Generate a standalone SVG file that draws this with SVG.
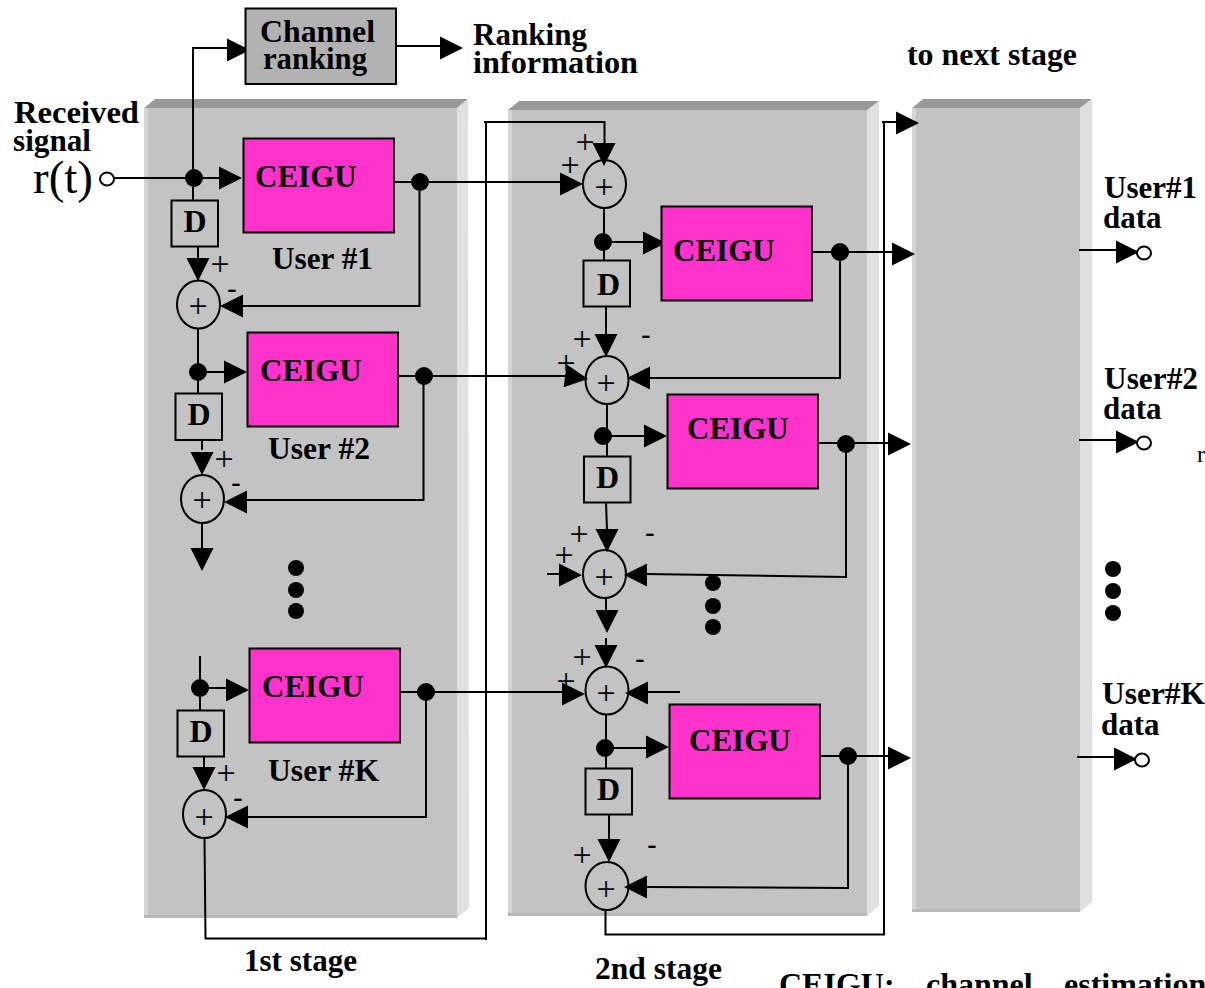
<svg xmlns="http://www.w3.org/2000/svg" width="1205" height="988" viewBox="0 0 1205 988">
<style>
text{font-family:"Liberation Serif","Times New Roman",serif;fill:#000}
.b{font-weight:bold;font-size:32px}
.c{font-weight:bold;font-size:31px}
.u{font-weight:bold;font-size:31px}
.p{font-size:34px;text-anchor:middle}
.m{font-weight:bold;font-size:28px;text-anchor:middle}
.box{stroke:#000;stroke-width:2}
.mag{fill:#ff33cc}
.d{fill:none}
.sum{fill:none;stroke:#000;stroke-width:2}
.l{fill:none;stroke:#000;stroke-width:2}
.top{fill:#999}.rgt{fill:#e0e0e0}.lft{fill:#d4d4d4}.bot{fill:#b8b8b8}.fr{fill:#c3c3c3}
</style>
<defs>
<path id="a" d="M-23,-11.500L0,0L-23,11.500Z" fill="#000"/>
<ellipse id="j" rx="9" ry="9" fill="#000"/>
<ellipse id="o" rx="7" ry="6.500" fill="#fff" stroke="#000" stroke-width="2"/>
</defs>

<g id="panel1">
<polygon class="top" points="144,108 155,99 468,99 457,108"/>
<polygon class="rgt" points="457,108 468,99 469,908 457,918"/>
<rect class="fr" x="144" y="108" width="313" height="810"/>
<rect class="lft" x="144" y="108" width="4" height="810"/>
<rect class="bot" x="144" y="915" width="313" height="3"/>
</g>
<g id="panel2">
<polygon class="top" points="508,110 519,101 879,101 868,110"/>
<polygon class="rgt" points="867,110 879,101 879,906 867,916"/>
<rect class="fr" x="508" y="110" width="359" height="806"/>
<rect class="lft" x="508" y="110" width="4" height="806"/>
<rect class="bot" x="508" y="913" width="359" height="3"/>
</g>
<g id="panel3">
<polygon class="top" points="912,108 923,99 1092,99 1080,108"/>
<polygon class="rgt" points="1080,108 1092,99 1092,902 1080,912"/>
<rect class="fr" x="912" y="108" width="168" height="804"/>
<rect class="lft" x="912" y="108" width="4" height="804"/>
<rect class="bot" x="912" y="909" width="168" height="3"/>
</g>

<g id="connectors">
<path class="l" d="M193,178V48H245M396,46H446M114,178H222"/>
<path class="l" d="M193,178V200M198,246V260M198,328V393M202,440V450M202,523V548"/>
<path class="l" d="M394,182H562M419.500,182V306H240"/>
<path class="l" d="M398,376H566M423.500,376V500H244"/>
<path class="l" d="M200,656V710M204,756V768M398,692H564M426,692V817H246"/>
<path class="l" d="M200,688H230M198,372H226"/>
<path class="l" d="M204.500,838L205.500,939M205,938.500H486M486,122V940M484,122H604.500V145"/>
<path class="l" d="M604,208V260M603,242H646M606,306V338M812,252H892M840,252V378M841,378H650"/>
<path class="l" d="M607,404V456M603,436H646M606,502L607,530M818,443H888M846,444V577M847,577L646,574"/>
<path class="l" d="M547,574H562M606,598V614M606,638V648M647,692H680"/>
<path class="l" d="M606,714V768M605,748H648M820,756H888M848,756V889M849,888L645,887M609,814V841"/>
<path class="l" d="M605.500,910V934.500H884V122M882,122H898"/>
<path class="l" d="M1079,250H1118M1079,440H1118M1077,757H1116"/>
<use href="#a" transform="translate(250,50)"/>
<use href="#a" transform="translate(463,48)"/>
<use href="#a" transform="translate(242,178)"/>
<use href="#a" transform="translate(198,281) rotate(90)"/>
<use href="#a" transform="translate(220,306) rotate(180)"/>
<use href="#a" transform="translate(247,372)"/>
<use href="#a" transform="translate(202,475) rotate(90)"/>
<use href="#a" transform="translate(224,502) rotate(180)"/>
<use href="#a" transform="translate(202,571) rotate(90)"/>
<use href="#a" transform="translate(249,690)"/>
<use href="#a" transform="translate(204,790) rotate(90)"/>
<use href="#a" transform="translate(225,817) rotate(180)"/>
<use href="#a" transform="translate(604,166) rotate(90)"/>
<use href="#a" transform="translate(583,184)"/>
<use href="#a" transform="translate(666,243)"/>
<use href="#a" transform="translate(915,254)"/>
<use href="#a" transform="translate(919,123)"/>
<use href="#a" transform="translate(606,357) rotate(90)"/>
<use href="#a" transform="translate(588,379) rotate(8)"/>
<use href="#a" transform="translate(627,378) rotate(180)"/>
<use href="#a" transform="translate(667,436)"/>
<use href="#a" transform="translate(911,444)"/>
<use href="#a" transform="translate(607,552) rotate(90)"/>
<use href="#a" transform="translate(582,575)"/>
<use href="#a" transform="translate(624,575) rotate(180)"/>
<use href="#a" transform="translate(607,633) rotate(90)"/>
<use href="#a" transform="translate(606,668) rotate(90)"/>
<use href="#a" transform="translate(585,694)"/>
<use href="#a" transform="translate(625,693) rotate(180)"/>
<use href="#a" transform="translate(669,747)"/>
<use href="#a" transform="translate(911,758)"/>
<use href="#a" transform="translate(609,862) rotate(90)"/>
<use href="#a" transform="translate(624,887) rotate(180)"/>
<use href="#a" transform="translate(1139,252)"/>
<use href="#a" transform="translate(1139,442)"/>
<use href="#a" transform="translate(1137,759)"/>
<use href="#j" transform="translate(194,178)"/>
<use href="#j" transform="translate(420,182)"/>
<use href="#j" transform="translate(198,372)"/>
<use href="#j" transform="translate(424,376)"/>
<use href="#j" transform="translate(200,688)"/>
<use href="#j" transform="translate(426,692)"/>
<use href="#j" transform="translate(603,242)"/>
<use href="#j" transform="translate(840,252)"/>
<use href="#j" transform="translate(603,436)"/>
<use href="#j" transform="translate(846,444)"/>
<use href="#j" transform="translate(605,748)"/>
<use href="#j" transform="translate(848,756)"/>
</g>

<g id="channel-ranking"><rect class="box" x="245.500" y="8.500" width="150.500" height="75.500" fill="#b2b2b2"/>
<text class="b" x="260" y="42" textLength="115" lengthAdjust="spacingAndGlyphs">Channel</text><text class="b" x="263" y="69" textLength="104" lengthAdjust="spacingAndGlyphs">ranking</text></g>
<g id="input"><use href="#o" transform="translate(107,179)"/><text x="33" y="193" font-size="47" textLength="60" lengthAdjust="spacingAndGlyphs">r(t)</text></g>
<text class="b" x="14" y="123" textLength="125" lengthAdjust="spacingAndGlyphs">Received</text><text class="b" x="13" y="151" textLength="78" lengthAdjust="spacingAndGlyphs">signal</text>
<text class="b" x="473" y="45" textLength="114" lengthAdjust="spacingAndGlyphs">Ranking</text><text class="b" x="473" y="73" textLength="165" lengthAdjust="spacingAndGlyphs">information</text>
<text class="b" x="907" y="65" textLength="170" lengthAdjust="spacingAndGlyphs">to next stage</text>

<g id="ceigu-1-1"><rect class="box mag" x="243.500" y="138.500" width="150.500" height="94"/><text class="c" x="255" y="187">CEIGU</text></g>
<text class="u" x="272" y="269" textLength="101" lengthAdjust="spacingAndGlyphs">User #1</text>
<g id="d-1-1"><rect class="box d" x="171.500" y="200.500" width="46.500" height="46"/><text class="b" x="183.500" y="232">D</text></g>
<g id="sum-1-1"><ellipse class="sum" cx="198.500" cy="304.500" rx="21.500" ry="24"/><text class="p" x="198" y="317">+</text></g>
<text class="p" x="220" y="275">+</text><text class="m" x="232" y="297">-</text>

<g id="ceigu-1-2"><rect class="box mag" x="247.500" y="332.500" width="150.500" height="94"/><text class="c" x="260" y="381">CEIGU</text></g>
<text class="u" x="268" y="459" textLength="102" lengthAdjust="spacingAndGlyphs">User #2</text>
<g id="d-1-2"><rect class="box d" x="175.500" y="393.500" width="46.500" height="46.500"/><text class="b" x="187.500" y="425">D</text></g>
<g id="sum-1-2"><ellipse class="sum" cx="202.500" cy="499" rx="21.500" ry="24"/><text class="p" x="202" y="511">+</text></g>
<text class="p" x="224" y="470">+</text><text class="m" x="236" y="491">-</text>
<g id="dots-1"><ellipse cx="296" cy="568" rx="8" ry="8"/><ellipse cx="296" cy="590" rx="8" ry="8"/><ellipse cx="296" cy="611" rx="8" ry="8"/></g>

<g id="ceigu-1-k"><rect class="box mag" x="249.500" y="648.500" width="150.500" height="94"/><text class="c" x="262" y="697">CEIGU</text></g>
<text class="u" x="268" y="781" textLength="111" lengthAdjust="spacingAndGlyphs">User #K</text>
<g id="d-1-k"><rect class="box d" x="177.500" y="710.500" width="46.500" height="46"/><text class="b" x="189.500" y="742">D</text></g>
<g id="sum-1-k"><ellipse class="sum" cx="204.500" cy="814" rx="21.500" ry="24"/><text class="p" x="204" y="828">+</text></g>
<text class="p" x="226" y="784">+</text><text class="m" x="238" y="806">-</text>

<g id="sum-2-1"><ellipse class="sum" cx="604.500" cy="184" rx="21.500" ry="24"/><text class="p" x="604" y="198">+</text></g>
<text class="p" x="585" y="153">+</text><text class="p" x="570" y="176">+</text>
<g id="d-2-1"><rect class="box d" x="583.500" y="260.500" width="46.500" height="46"/><text class="b" x="597" y="295">D</text></g>
<g id="ceigu-2-1"><rect class="box mag" x="661.500" y="206.500" width="150.500" height="94"/><text class="c" x="673" y="261">CEIGU</text></g>
<g id="sum-2-2"><ellipse class="sum" cx="607" cy="380" rx="21.500" ry="24"/><text class="p" x="606" y="394">+</text></g>
<text class="p" x="582" y="350">+</text><text class="p" x="566" y="374">+</text><text class="m" x="646" y="343">-</text>
<g id="d-2-2"><rect class="box d" x="584" y="456.500" width="46.500" height="46"/><text class="b" x="596" y="488">D</text></g>
<g id="ceigu-2-2"><rect class="box mag" x="667.500" y="394.500" width="150.500" height="94"/><text class="c" x="687" y="439">CEIGU</text></g>
<g id="sum-2-3"><ellipse class="sum" cx="604.500" cy="574" rx="21.500" ry="24"/><text class="p" x="604" y="588">+</text></g>
<text class="p" x="579" y="545">+</text><text class="p" x="564" y="566">+</text><text class="m" x="650" y="541">-</text>
<g id="dots-2"><ellipse cx="713" cy="583" rx="8" ry="8"/><ellipse cx="713" cy="606" rx="8" ry="8"/><ellipse cx="713" cy="627" rx="8" ry="8"/></g>
<g id="sum-2-4"><ellipse class="sum" cx="607" cy="690.500" rx="21.500" ry="24"/><text class="p" x="606" y="704">+</text></g>
<text class="p" x="582" y="668">+</text><text class="p" x="566" y="692">+</text><text class="m" x="640" y="667">-</text>
<g id="ceigu-2-k"><rect class="box mag" x="669.500" y="704.500" width="150.500" height="94"/><text class="c" x="689" y="751">CEIGU</text></g>
<g id="d-2-k"><rect class="box d" x="585.500" y="768.500" width="46.500" height="46"/><text class="b" x="597" y="800">D</text></g>
<g id="sum-2-5"><ellipse class="sum" cx="607" cy="886" rx="21.500" ry="24"/><text class="p" x="606" y="900">+</text></g>
<text class="p" x="582" y="866">+</text><text class="m" x="652" y="853">-</text>

<g id="out-1"><use href="#o" transform="translate(1144,253)"/><text class="u" x="1104" y="198" textLength="93" lengthAdjust="spacingAndGlyphs">User#1</text><text class="u" x="1103" y="228">data</text></g>
<g id="out-2"><use href="#o" transform="translate(1144,443)"/><text class="u" x="1104" y="389" textLength="94" lengthAdjust="spacingAndGlyphs">User#2</text><text class="u" x="1103" y="419">data</text></g>
<g id="out-k"><use href="#o" transform="translate(1142,760)"/><text class="u" x="1102" y="704" textLength="103" lengthAdjust="spacingAndGlyphs">User#K</text><text class="u" x="1101" y="735">data</text></g>
<g id="dots-3"><ellipse cx="1113" cy="569" rx="8" ry="8"/><ellipse cx="1113" cy="591" rx="8" ry="8"/><ellipse cx="1113" cy="613" rx="8" ry="8"/></g>
<text x="1197" y="462" font-size="24">r</text>
<text class="b" x="244" y="971" textLength="113" lengthAdjust="spacingAndGlyphs">1st stage</text>
<text class="b" x="595" y="979" textLength="127" lengthAdjust="spacingAndGlyphs">2nd stage</text>
<text class="b" x="779" y="995">CEIGU:</text><text class="b" x="926" y="995">channel</text><text class="b" x="1064" y="995">estimation</text>
</svg>
